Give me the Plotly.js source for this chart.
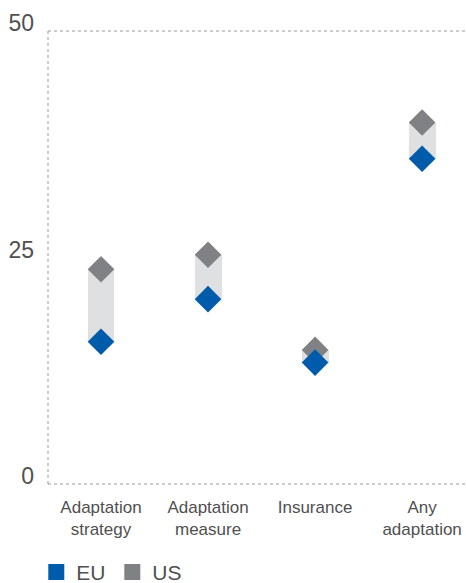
<!DOCTYPE html>
<html>
<head>
<meta charset="utf-8">
<script src="https://cdn.plot.ly/plotly-3.0.1.min.js"></script>
<style>html,body{margin:0;padding:0;background:#fff;}#chart{width:466px;height:583px;}</style>
</head>
<body>
<div id="chart"></div>
<script>
const categories = ["Adaptation<br>strategy", "Adaptation<br>measure", "Insurance", "Any<br>adaptation"];
const euValues = [15.7, 20.4, 13.4, 35.9];
const usValues = [23.7, 25.3, 14.8, 39.9];
const yTicks = [0, 25, 50];
const seriesNames = ["EU", "US"];

const EU_COLOR = "#005baa";
const US_COLOR = "#808184";
const BAND_COLOR = "#dfe0e2";
const TEXT_COLOR = "#505050";
const FONT = "'Liberation Sans Narrow', 'Liberation Sans', sans-serif";

const band = {
  type: "bar",
  x: categories,
  base: euValues,
  y: usValues.map((v, i) => v - euValues[i]),
  width: 0.252,
  marker: {color: BAND_COLOR, line: {width: 0}},
  showlegend: false,
  hoverinfo: "skip"
};
const us = {
  type: "scatter", mode: "markers", x: categories, y: usValues, name: seriesNames[1],
  marker: {symbol: "diamond", size: 20.5, color: US_COLOR, line: {width: 0}},
  showlegend: false
};
const eu = {
  type: "scatter", mode: "markers", x: categories, y: euValues, name: seriesNames[0],
  marker: {symbol: "diamond", size: 20.5, color: EU_COLOR, line: {width: 0}},
  showlegend: false
};
const legEU = {
  type: "scatter", mode: "markers", x: [null], y: [null], name: seriesNames[0],
  marker: {symbol: "square", size: 16, color: EU_COLOR, line: {width: 0}}
};
const legUS = {
  type: "scatter", mode: "markers", x: [null], y: [null], name: seriesNames[1],
  marker: {symbol: "square", size: 16, color: US_COLOR, line: {width: 0}}
};

const dot = {color: "#9a9a9a", width: 1, dash: "dot"};
const layout = {
  width: 466, height: 583,
  margin: {l: 48, r: 0, t: 31, b: 98.5, pad: 0, autoexpand: false},
  paper_bgcolor: "#fff", plot_bgcolor: "#fff",
  font: {family: FONT, color: TEXT_COLOR},
  showlegend: true,
  legend: {orientation: "h", x: -0.028, xanchor: "left", y: -0.195, yanchor: "middle",
           font: {size: 21, color: TEXT_COLOR, family: FONT}, entrywidth: 31, itemsizing: "trace"},
  xaxis: {type: "category", range: [-0.495, 3.41], showgrid: false, zeroline: false, showline: false,
          ticks: "", tickfont: {size: 17, color: TEXT_COLOR}, ticklabelstandoff: 11, fixedrange: true},
  yaxis: {range: [0, 50], tickvals: yTicks, showgrid: false, zeroline: false, showline: false,
          ticks: "", tickfont: {size: 23, color: TEXT_COLOR}, ticklabelstandoff: 13, ticklabelshift: -8, fixedrange: true},
  shapes: [
    {type: "line", xref: "paper", yref: "paper", x0: 0, x1: 0, y0: 0, y1: 1, line: dot, layer: "below"},
    {type: "line", xref: "paper", yref: "paper", x0: 0, x1: 1, y0: 0, y1: 0, line: dot, layer: "below"},
    {type: "line", xref: "paper", yref: "paper", x0: 0, x1: 1, y0: 1, y1: 1, line: dot, layer: "below"}
  ],
  bargap: 0
};
Plotly.newPlot("chart", [band, us, eu, legEU, legUS], layout, {displayModeBar: false, staticPlot: true});
</script>
</body>
</html>
